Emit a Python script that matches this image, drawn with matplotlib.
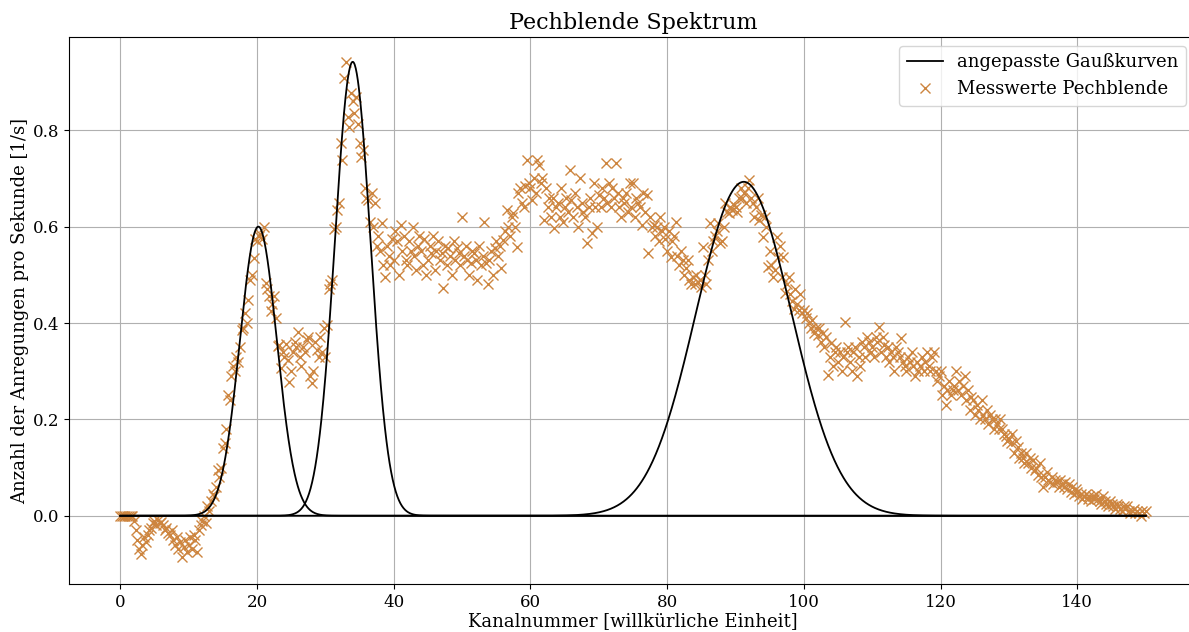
import numpy as np
import matplotlib
matplotlib.use("Agg")
import matplotlib.pyplot as plt

plt.rcParams['font.family'] = ['DejaVu Serif']

# Measured rates, 4 channels per unit step (channel spacing 0.25)
rates = [
    0, 0, 0, 0, 0, 0, 0, 0,
    -0.01, -0.03, -0.05, -0.07,
    -0.08, -0.06, -0.045, -0.055,
    -0.04, -0.03, -0.025, -0.015,
    -0.01, -0.02, -0.008, -0.015,
    -0.012, -0.02, -0.03, -0.025,
    -0.035, -0.04, -0.03, -0.05,
    -0.06, -0.045, -0.07, -0.055,
    -0.085, -0.065, -0.05, -0.075,
    -0.06, -0.045, -0.07, -0.04,
    -0.05, -0.075, -0.03, -0.02,
    -0.01, 0.0, -0.015, 0.02,
    0.01, 0.03, 0.045, 0.04,
    0.06, 0.095, 0.08, 0.1,
    0.14, 0.15, 0.18, 0.25,
    0.24, 0.29, 0.31, 0.30,
    0.33, 0.32, 0.35, 0.385,
    0.39, 0.42, 0.40, 0.447,
    0.49, 0.50, 0.535, 0.575,
    0.57, 0.58, 0.585, 0.575,
    0.60, 0.483, 0.47, 0.456,
    0.425, 0.44, 0.456, 0.41,
    0.352, 0.355, 0.307, 0.34,
    0.33, 0.356, 0.323, 0.278,
    0.30, 0.34, 0.36, 0.35,
    0.382, 0.33, 0.31, 0.35,
    0.34, 0.365, 0.37, 0.29,
    0.275, 0.30, 0.36, 0.345,
    0.33, 0.37, 0.34, 0.39,
    0.33, 0.395, 0.47, 0.48,
    0.49, 0.596, 0.60, 0.634,
    0.648, 0.773, 0.738, 0.908,
    0.942, 0.827, 0.806, 0.877,
    0.86, 0.835, 0.87, 0.814,
    0.773, 0.744, 0.76, 0.68,
    0.66, 0.655, 0.61, 0.67,
    0.60, 0.648, 0.56, 0.58,
    0.55, 0.607, 0.52, 0.496,
    0.56, 0.54, 0.52, 0.575,
    0.53, 0.59, 0.57, 0.50,
    0.603, 0.55, 0.58, 0.53,
    0.52, 0.57, 0.55, 0.60,
    0.54, 0.51, 0.56, 0.58,
    0.55, 0.52, 0.575, 0.50,
    0.53, 0.56, 0.545, 0.58,
    0.51, 0.55, 0.57, 0.53,
    0.545, 0.473, 0.56, 0.52,
    0.555, 0.54, 0.50, 0.57,
    0.53, 0.555, 0.545, 0.52,
    0.62, 0.54, 0.56, 0.53,
    0.50, 0.525, 0.55, 0.545,
    0.53, 0.49, 0.56, 0.52,
    0.54, 0.61, 0.525, 0.48,
    0.53, 0.55, 0.50, 0.555,
    0.57, 0.54, 0.56, 0.514,
    0.572, 0.59, 0.635, 0.60,
    0.58, 0.62, 0.628, 0.60,
    0.557, 0.67, 0.68, 0.65,
    0.64, 0.685, 0.738, 0.69,
    0.68, 0.655, 0.70, 0.67,
    0.738, 0.727, 0.69, 0.70,
    0.613, 0.68, 0.64, 0.66,
    0.62, 0.66, 0.597, 0.64,
    0.65, 0.62, 0.68, 0.61,
    0.64, 0.66, 0.63, 0.717,
    0.655, 0.62, 0.67, 0.64,
    0.60, 0.70, 0.65, 0.63,
    0.62, 0.566, 0.64, 0.66,
    0.586, 0.69, 0.64, 0.60,
    0.665, 0.64, 0.68, 0.66,
    0.731, 0.65, 0.69, 0.64,
    0.68, 0.66, 0.731, 0.67,
    0.64, 0.62, 0.66, 0.65,
    0.67, 0.63, 0.69, 0.64,
    0.69, 0.62, 0.66, 0.65,
    0.64, 0.603, 0.67, 0.63,
    0.665, 0.545, 0.62, 0.60,
    0.603, 0.58, 0.60, 0.57,
    0.62, 0.59, 0.60, 0.575,
    0.55, 0.59, 0.537, 0.57,
    0.58, 0.61, 0.54, 0.52,
    0.55, 0.53, 0.50, 0.515,
    0.53, 0.49, 0.48, 0.495,
    0.48, 0.50, 0.485, 0.49,
    0.475, 0.557, 0.50, 0.48,
    0.53, 0.607, 0.55, 0.57,
    0.58, 0.59, 0.607, 0.566,
    0.57, 0.60, 0.648, 0.63,
    0.628, 0.64, 0.634, 0.645,
    0.64, 0.63, 0.66, 0.68,
    0.66, 0.67, 0.65, 0.68,
    0.696, 0.66, 0.648, 0.62,
    0.64, 0.66, 0.613, 0.625,
    0.579, 0.62, 0.60, 0.516,
    0.55, 0.52, 0.495, 0.51,
    0.579, 0.537, 0.56, 0.495,
    0.537, 0.462, 0.48, 0.495,
    0.46, 0.445, 0.43, 0.47,
    0.44, 0.427, 0.46, 0.42,
    0.427, 0.41, 0.42, 0.40,
    0.39, 0.406, 0.38, 0.39,
    0.375, 0.39, 0.36, 0.38,
    0.35, 0.37, 0.292, 0.33,
    0.358, 0.31, 0.34, 0.35,
    0.32, 0.34, 0.30, 0.33,
    0.403, 0.34, 0.35, 0.32,
    0.30, 0.34, 0.35, 0.29,
    0.33, 0.31, 0.36, 0.35,
    0.33, 0.37, 0.36, 0.34,
    0.35, 0.33, 0.37, 0.36,
    0.392, 0.34, 0.37, 0.355,
    0.33, 0.35, 0.32, 0.34,
    0.33, 0.30, 0.35, 0.34,
    0.33, 0.369, 0.32, 0.31,
    0.30, 0.33, 0.32, 0.34,
    0.31, 0.29, 0.32, 0.30,
    0.31, 0.33, 0.30, 0.32,
    0.34, 0.31, 0.30, 0.33,
    0.34, 0.30, 0.28, 0.29,
    0.30, 0.25, 0.27, 0.23,
    0.26, 0.28, 0.25, 0.26,
    0.27, 0.30, 0.26, 0.28,
    0.25, 0.27, 0.29, 0.24,
    0.26, 0.22, 0.247, 0.24,
    0.21, 0.23, 0.22, 0.20,
    0.24, 0.21, 0.20, 0.22,
    0.19, 0.21, 0.20, 0.18,
    0.20, 0.19, 0.18, 0.20,
    0.18, 0.17, 0.165, 0.155,
    0.16, 0.15, 0.17, 0.13,
    0.155, 0.143, 0.12, 0.13,
    0.12, 0.11, 0.13, 0.11,
    0.12, 0.10, 0.115, 0.095,
    0.10, 0.085, 0.11, 0.08,
    0.06, 0.08, 0.09, 0.075,
    0.07, 0.08, 0.065, 0.075,
    0.07, 0.06, 0.075, 0.065,
    0.06, 0.07, 0.055, 0.065,
    0.05, 0.06, 0.045, 0.055,
    0.05, 0.04, 0.045, 0.035,
    0.04, 0.045, 0.035, 0.04,
    0.03, 0.04, 0.035, 0.045,
    0.035, 0.03, 0.025, 0.04,
    0.03, 0.025, 0.02, 0.03,
    0.025, 0.02, 0.015, 0.025,
    0.02, 0.015, 0.01, 0.02,
    0.015, 0.02, 0.01, 0.005,
    0.01, 0.015, 0.005, 0.01,
    0.005, 0.0, 0.01, 0.005,
    0.01,
]
channel_step = 0.25

# Fitted Gaussian parameters
gauss_centers = [20.2, 34.0, 91.2]
gauss_amplitudes = [0.60, 0.942, 0.693]
gauss_sigmas = [2.7, 2.6, 7.0]

channels = np.arange(len(rates)) * channel_step

fig = plt.figure(figsize=(11.89, 6.32), dpi=100)
ax = fig.add_axes([69 / 1189, 48 / 632, 1128 / 1189, 547 / 632])

xs = np.linspace(0, 150, 2000)
for i, (mu, a, s) in enumerate(zip(gauss_centers, gauss_amplitudes, gauss_sigmas)):
    ax.plot(xs, a * np.exp(-(xs - mu) ** 2 / (2 * s ** 2)), color='black', lw=1.3,
            label='angepasste Gaußkurven' if i == 0 else None, zorder=3)

ax.plot(channels, rates, linestyle='none', marker='x', color='peru', markersize=7,
        markeredgewidth=1.0, label='Messwerte Pechblende', zorder=2)

ax.set_xlim(-7.5, 157.5)
ax.set_ylim(-0.1416, 0.9935)
ax.set_xticks([0, 20, 40, 60, 80, 100, 120, 140])
ax.set_yticks([0.0, 0.2, 0.4, 0.6, 0.8])
ax.tick_params(labelsize=12)
ax.grid(True, color='#b0b0b0', linewidth=0.8)
ax.set_axisbelow(True)
ax.set_title('Pechblende Spektrum', fontsize=16)
ax.set_xlabel('Kanalnummer [willkürliche Einheit]', fontsize=13, labelpad=1)
ax.set_ylabel('Anzahl der Anregungen pro Sekunde [1/s]', fontsize=13, labelpad=3)
ax.legend(loc='upper right', fontsize=13, bbox_to_anchor=(0.998, 1.0))

fig.savefig('out.png', dpi=100)
